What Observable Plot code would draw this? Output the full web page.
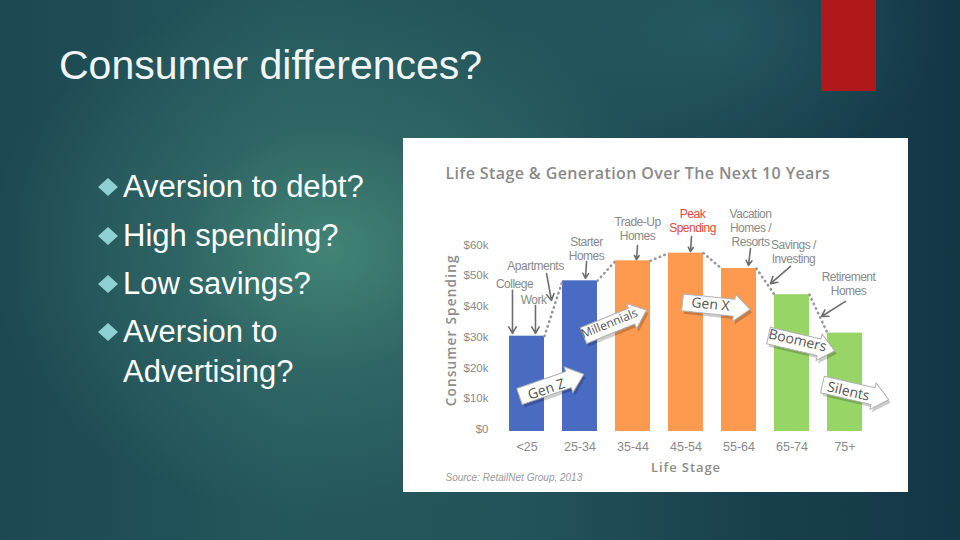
<!DOCTYPE html>
<html>
<head>
<meta charset="utf-8">
<script src="https://cdn.jsdelivr.net/npm/d3@7"></script>
<script src="https://cdn.jsdelivr.net/npm/@observablehq/plot@0.6"></script>
<style>
  html, body { margin: 0; padding: 0; width: 960px; height: 540px; overflow: hidden; }
  body {
    position: relative;
    font-family: "Liberation Sans", Arial, sans-serif;
    background:
      radial-gradient(ellipse 340px 270px at 330px 250px, rgba(72,140,122,0.85) 0%, rgba(58,118,110,0.5) 45%, rgba(40,90,95,0) 100%),
      radial-gradient(ellipse 220px 160px at 720px 30px, rgba(45,105,112,0.55), rgba(45,105,112,0) 100%),
      linear-gradient(90deg, #1c4852 0%, #24575c 30%, #22535a 55%, #183f4c 80%, #143746 100%);
  }
  #title { position: absolute; left: 59px; top: 45px; font-size: 41px; line-height: 1; color: #f1f5f5; white-space: nowrap; }
  #redbar { position: absolute; left: 821px; top: 0; width: 55px; height: 91px; background: #b0191a; }
  .bullet { position: absolute; left: 123px; font-size: 31px; line-height: 1; color: #ffffff; white-space: nowrap; }
  .diamond { position: absolute; left: 98px; width: 20px; height: 18px; background: #8ecfd3;
             clip-path: polygon(50% 0, 100% 50%, 50% 100%, 0 50%); }
  #chart { position: absolute; left: 403px; top: 138px; width: 505px; height: 354px; background: #fff; }
  #chart svg { display: block; overflow: visible; }
</style>
</head>
<body>
<div id="title"></div>
<div id="redbar"></div>
<div id="bullets"></div>
<div id="chart"></div>
<script>
// ---- slide text ----
const slideTitle = "Consumer differences?";
const bulletLines = ["Aversion to debt?", "High spending?", "Low savings?", "Aversion to", "Advertising?"];
const bulletHasMarker = [true, true, true, true, false];

// ---- chart data ----
const chartTitle = "Life Stage & Generation Over The Next 10 Years";
const yAxisLabel = "Consumer Spending";
const xAxisLabel = "Life Stage";
const sourceNote = "Source: RetailNet Group, 2013";
const stages = ["<25", "25-34", "35-44", "45-54", "55-64", "65-74", "75+"];
const spending = [31, 49, 55.5, 58, 53, 44.5, 32]; // $k
const stageGroup = ["early", "early", "mid", "mid", "mid", "late", "late"];
const yTicks = [0, 10, 20, 30, 40, 50, 60];
const yTickLabels = ["$0", "$10k", "$20k", "$30k", "$40k", "$50k", "$60k"];

// annotation labels (x in stage-index units, y in $k)
const noteText = ["College", "Work", "Apartments", "Starter\nHomes", "Trade-Up\nHomes", "Peak\nSpending",
                  "Vacation\nHomes /\nResorts", "Savings /\nInvesting", "Retirement\nHomes"];
const noteX = [-0.236, 0.123, 0.160, 1.123, 2.085, 3.123, 4.217, 5.028, 6.066];
const noteY = [48.1, 42.9, 54.0, 59.5, 66.0, 68.6, 66.3, 58.5, 48.1];
const noteHighlight = [false, false, false, false, false, true, false, false, false];
// pointer arrows
const ptrX1 = [-0.274, 0.160, 0.368, 1.123, 2.085, 3.104, 4.217, 4.972, 6.009];
const ptrY1 = [45.9, 41.0, 51.4, 55.3, 60.5, 63.4, 59.5, 53.7, 42.3];
const ptrX2 = [-0.274, 0.160, 0.462, 1.104, 2.066, 3.085, 4.179, 4.594, 5.557];
const ptrY2 = [31.9, 31.9, 42.6, 49.8, 55.9, 58.5, 54.0, 48.1, 37.4];
// generation block arrows
const genLabels = ["Gen Z", "Millennials", "Gen X", "Boomers", "Silents"];
const genX = [-0.142, 1.066, 2.934, 4.557, 5.575];
const genY = [11.4, 31.2, 42.0, 31.2, 15.3];
const genAngle = [-19, -22, 6, 13, 13];
const genTextX = [0.368, 1.557, 3.462, 5.104, 6.066];
const genTextY = [13.7, 35.1, 41.3, 29.6, 13.0];

// ---- slide DOM ----
document.getElementById("title").textContent = slideTitle;
const baselines = [197, 246, 294, 342, 382];
const bl = document.getElementById("bullets");
bulletLines.forEach((t, i) => {
  const d = document.createElement("div");
  d.className = "bullet";
  d.style.top = (baselines[i] - 26.3) + "px";
  d.textContent = t;
  bl.appendChild(d);
  if (bulletHasMarker[i]) {
    const m = document.createElement("div");
    m.className = "diamond";
    m.style.top = (baselines[i] - 19) + "px";
    bl.appendChild(m);
  }
});

// ---- chart ----
const bars = stages.map((s, i) => ({i, stage: s, value: spending[i], group: stageGroup[i]}));
const half = 0.33;
const connectors = d3.pairs(bars).map(([a, b]) => ({x1: a.i + half, y1: a.value, x2: b.i - half, y2: b.value}));
const notes = noteText.map((t, i) => ({text: t, x: noteX[i], y: noteY[i], hi: noteHighlight[i]}));
const pointers = ptrX1.map((_, i) => ({x1: ptrX1[i], y1: ptrY1[i], x2: ptrX2[i], y2: ptrY2[i]}));
const gens = genLabels.map((g, i) => ({label: g, x: genX[i], y: genY[i], rot: 90 + genAngle[i],
                                       tx: genTextX[i], ty: genTextY[i], trot: genAngle[i]}));

const blockArrow = {
  draw(ctx, l, r) {
    const hw = r * 1.6, hl = r * 1.9;
    ctx.moveTo(-r, 0);
    ctx.lineTo(-r, -(l - hl));
    ctx.lineTo(-hw, -(l - hl));
    ctx.lineTo(0, -l);
    ctx.lineTo(hw, -(l - hl));
    ctx.lineTo(r, -(l - hl));
    ctx.lineTo(r, 0);
    ctx.closePath();
  }
};

const narrow = "'Liberation Sans', Arial, sans-serif";
const sans = "'Open Sans', 'Noto Sans', sans-serif";

const chart = Plot.plot({
  width: 505,
  height: 354,
  marginLeft: 97,
  marginRight: 37,
  marginTop: 108.5,
  marginBottom: 61,
  style: {background: "white", color: "#8a8a8a", fontFamily: narrow, overflow: "visible"},
  x: {type: "linear", domain: [-0.5, 6.5]},
  y: {domain: [0, 60]},
  color: {domain: ["early", "mid", "late"], range: ["#4a6bc2", "#fd9a4f", "#96d566"]},
  marks: [
    Plot.rect(bars, {x1: d => d.i - half, x2: d => d.i + half, y1: 0, y2: "value", fill: "group"}),
    Plot.link(connectors, {x1: "x1", y1: "y1", x2: "x2", y2: "y2", stroke: "#999", strokeWidth: 2.6,
                           strokeDasharray: "0.5,4.5", strokeLinecap: "round"}),
    Plot.axisY({ticks: yTicks, tickFormat: d => yTickLabels[yTicks.indexOf(d)], tickSize: 0, tickPadding: 12,
                label: null, fontSize: 11.5, dy: -2, fill: "#8a8a8a"}),
    Plot.axisX({ticks: d3.range(stages.length), tickFormat: d => stages[d], tickSize: 0, tickPadding: 11,
                label: null, fontSize: 12.5, fill: "#8a8a8a"}),
    Plot.text([yAxisLabel], {text: d => d, frameAnchor: "left", textAnchor: "middle", lineAnchor: "middle",
                             dx: -49, dy: -9, rotate: -90,
                             fontFamily: sans, fontWeight: 600, fontSize: 13.5, fill: "#8c8c8c"}),
    Plot.text([xAxisLabel], {text: d => d, frameAnchor: "bottom", textAnchor: "middle", lineAnchor: "middle", dy: 36,
                             fontFamily: sans, fontWeight: 600, fontSize: 13, fill: "#8c8c8c"}),
    Plot.text([chartTitle], {text: d => d, frameAnchor: "top-left", dx: -55, dy: -73.5, textAnchor: "start",
                             lineAnchor: "middle",
                             fontFamily: sans, fontWeight: 600, fontSize: 16, fill: "#8a8a8a"}),
    Plot.text([sourceNote], {text: d => d, frameAnchor: "bottom-left", dx: -55, dy: 46, textAnchor: "start",
                             lineAnchor: "middle", fontStyle: "italic", fontSize: 10, fill: "#9a9a9a"}),
    Plot.arrow(pointers, {x1: "x1", y1: "y1", x2: "x2", y2: "y2", stroke: "#6e6e6e", strokeWidth: 1.6,
                          headLength: 7, bend: 0}),
    Plot.text(notes.filter(d => !d.hi), {x: "x", y: "y", text: "text", fontSize: 12, lineHeight: 1.15, fill: "#8a8a8a"}),
    Plot.text(notes.filter(d => d.hi), {x: "x", y: "y", text: "text", fontSize: 12, lineHeight: 1.15, fill: "#e4463c"}),
    // block arrow shadow + body
    Plot.vector(gens, {x: "x", y: "y", rotate: "rot", length: 68, anchor: "start", r: 8.5, shape: blockArrow,
                       fill: "#000", fillOpacity: 0.2, stroke: "none", dx: 2, dy: 3}),
    Plot.vector(gens, {x: "x", y: "y", rotate: "rot", length: 68, anchor: "start", r: 8.5, shape: blockArrow,
                       fill: "white", stroke: "#b0b0b0", strokeWidth: 1}),
    Plot.text(gens.filter(d => d.label.length <= 8), {x: "tx", y: "ty", text: "label", rotate: "trot",
                       fontFamily: sans, fontSize: 14, fill: "#555"}),
    Plot.text(gens.filter(d => d.label.length > 8), {x: "tx", y: "ty", text: "label", rotate: "trot",
                       fontFamily: sans, fontSize: 12, fill: "#555"})
  ]
});
document.getElementById("chart").appendChild(chart);

// letter-spacing tweaks for the chart headings and the annotation notes
const spacing = new Map([[yAxisLabel, "1.25px"], [xAxisLabel, "0.9px"], [chartTitle, "0.4px"]]);
d3.select(chart).selectAll("text").each(function () {
  const s = spacing.get(this.textContent);
  if (s) this.style.letterSpacing = s;
});
const noteLines = new Set(noteText.flatMap(t => t.split("\n")));
d3.select(chart).selectAll("text, tspan").each(function () {
  if (noteLines.has(this.textContent) || noteText.includes(this.textContent)) this.style.letterSpacing = "-0.5px";
});
</script>
</body>
</html>
